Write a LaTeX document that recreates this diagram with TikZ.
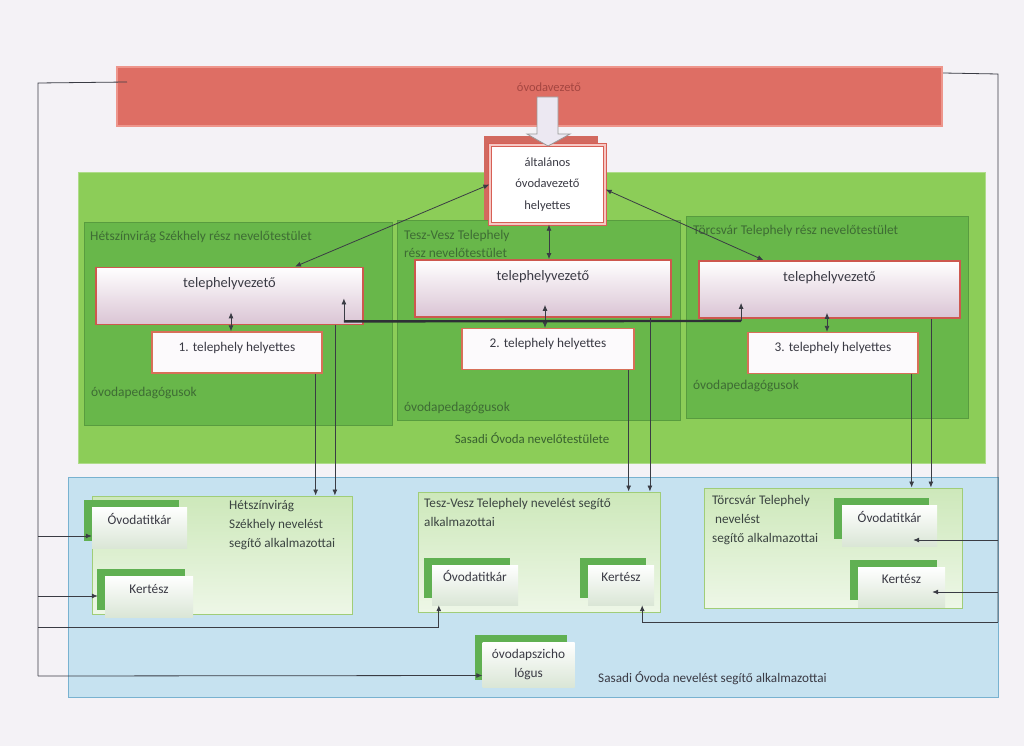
\documentclass[tikz,border=0pt]{standalone}
\usepackage{fontspec}
\setmainfont{Carlito}
\usepackage{tikz}
\usetikzlibrary{arrows.meta}
\usetikzlibrary{positioning}
\usetikzlibrary{shadows, calc}

\definecolor{pagebg}{RGB}{244,242,246}
\definecolor{barred}{RGB}{222,110,100}
\definecolor{barline}{RGB}{238,150,140}
\definecolor{bartext}{RGB}{165,70,65}
\definecolor{altred}{RGB}{215,95,85}
\definecolor{altpink}{RGB}{246,200,196}
\definecolor{altshade}{RGB}{210,105,95}
\definecolor{bggreen}{RGB}{140,205,88}
\definecolor{panelgreen}{RGB}{104,183,74}
\definecolor{paneltext}{RGB}{62,108,52}
\definecolor{vezred}{RGB}{205,88,78}
\definecolor{vezbottom}{RGB}{218,196,212}
\definecolor{helyred}{RGB}{215,112,88}
\definecolor{bgblue}{RGB}{198,226,240}
\definecolor{blueline}{RGB}{120,178,208}
\definecolor{grpgreen}{RGB}{205,232,186}
\definecolor{grpline}{RGB}{160,205,120}
\definecolor{cornergreen}{RGB}{96,176,82}
\definecolor{rolebottom}{RGB}{218,230,214}
\definecolor{linegray}{RGB}{58,60,68}
\definecolor{textgray}{RGB}{58,58,68}
\definecolor{blocklav}{RGB}{236,232,242}

\begin{document}
\begin{tikzpicture}
    [x=1pt,y=-1pt,>={Latex[length=6pt,width=5pt]},
vezetobar/.style={rectangle, fill=barred, draw=barline, line width=2pt, minimum width=825pt, minimum height=59pt},
bartxt/.style={text=bartext, font=\fontsize{12.5}{15}\selectfont, inner sep=1pt},
altback/.style={rectangle, fill=altshade, minimum width=114pt, minimum height=84pt},
altbox/.style={rectangle, fill=white, draw=altred, double=altpink, double distance=1.2pt, line width=1.3pt, minimum width=115pt, minimum height=79pt, align=center, text=textgray, font=\fontsize{12.5}{21.5}\selectfont},
blockarr/.style={fill=blocklav, draw=gray!80, line width=0.8pt},
groupbg/.style={rectangle, fill=bggreen, draw=bggreen!70!white, line width=1pt},
panel/.style={rectangle, fill=panelgreen, draw=panelgreen!85!black, line width=0.6pt},
paneltxt/.style={text=paneltext, font=\fontsize{13.4}{18}\selectfont, inner sep=1pt, align=left},
vezbox/.style={rectangle, draw=vezred, line width=1.8pt, top color=white, bottom color=vezbottom, minimum height=57pt, text=textgray, font=\fontsize{14.4}{16}\selectfont, text height=10pt, text depth=27pt},
helybox/.style={rectangle, draw=helyred, line width=1.3pt, fill=white!92!vezbottom, minimum height=41pt, text=textgray, font=\fontsize{13.3}{15}\selectfont, text height=9pt, text depth=12pt},
bluebg/.style={rectangle, fill=bgblue, draw=blueline, line width=1pt},
grpbox/.style={rectangle, top color=grpgreen, bottom color=grpgreen!35!white, draw=grpline, line width=1pt},
grptxt/.style={text=textgray!80!paneltext, font=\fontsize{13.2}{19}\selectfont, inner sep=1pt, align=left},
rolebox/.style={rectangle, top color=white, bottom color=rolebottom, drop shadow={shadow xshift=-8pt,shadow yshift=7pt,fill=cornergreen,opacity=1}, text=textgray, font=\fontsize{13.3}{19}\selectfont},
roletop/.style={text height=9pt, text depth=16pt},
arr/.style={draw=linegray, line width=0.8pt, ->},
dblarr/.style={draw=linegray, line width=0.8pt, <->},
rail/.style={draw=linegray, line width=0.8pt},
linkline/.style={draw=linegray!80!black, line width=2.4pt}
]

\fill[pagebg] (0,0) rectangle (1024,746);

% top
\node[vezetobar](vezeto) at (529.5,96.5) {};
\node[bartxt](vezetotxt) at (549,87) {óvodavezető};

% nevelotestulet
\node[groupbg, minimum width=907pt, minimum height=290pt](nevtest) at (531.5,318) {};
\node[paneltxt, text=paneltext!90!black, font=\fontsize{12.9}{15}\selectfont](nevtestlbl) at (532,438) {Sasadi Óvoda nevelőtestülete};

\node[panel, minimum width=308pt, minimum height=203pt](hetpanel) at (238,323.5) {};
\node[panel, minimum width=283pt, minimum height=200pt](teszpanel) at (538.5,320) {};
\node[panel, minimum width=282pt, minimum height=202pt](torpanel) at (827,317) {};

\node[paneltxt, anchor=west](hettitle) at (89,237) {Hétszínvirág Székhely rész nevelőtestület};
\node[paneltxt, anchor=west](tesztitle) at (403,244) {Tesz-Vesz Telephely\\rész nevelőtestület};
\node[paneltxt, anchor=west](tortitle) at (692,231) {Törcsvár Telephely rész nevelőtestület};
\node[paneltxt, anchor=west](hetped) at (90,393) {óvodapedagógusok};
\node[paneltxt, anchor=west](teszped) at (403,408) {óvodapedagógusok};
\node[paneltxt, anchor=west](torped) at (692,386) {óvodapedagógusok};

\node[altback](altshadow) at (541,178) {};
\node[altbox](alt) at (547.5,184.5) {általános\\óvodavezető\\helyettes};
\draw[blockarr] (537,97) -- (558,97) -- (558,134) -- (570,134) -- (548,146) -- (527,134) -- (537,134) -- cycle;

\node[vezbox, minimum width=267pt](hetvez) at (229.5,296) {telephelyvezető};
\node[vezbox, minimum width=256pt](teszvez) at (543,288.5) {telephelyvezető};
\node[vezbox, minimum width=261pt](torvez) at (829.5,289.5) {telephelyvezető};

\node[helybox, minimum width=170pt](hethely) at (237,352.5) {1. telephely helyettes};
\node[helybox, minimum width=172pt](teszhely) at (548,349) {2. telephely helyettes};
\node[helybox, minimum width=170pt](torhely) at (833,353) {3. telephely helyettes};

% segito alkalmazottak
\node[bluebg, minimum width=930pt, minimum height=220pt](segito) at (533,587) {};
\node[grptxt, text=textgray, anchor=west](segitolbl) at (597,678) {Sasadi Óvoda nevelést segítő alkalmazottai};

\node[grpbox, minimum width=260pt, minimum height=118pt](hetgrp) at (222,555) {};
\node[grptxt, anchor=north west](hetgrptxt) at (228,499) {Hétszínvirág\\Székhely nevelést\\segítő alkalmazottai};
\node[grpbox, minimum width=242pt, minimum height=120pt](teszgrp) at (539,552) {};
\node[grptxt, anchor=north west](teszgrptxt) at (423,497) {Tesz-Vesz Telephely nevelést segítő\\alkalmazottai};
\node[grpbox, minimum width=258pt, minimum height=120pt](torgrp) at (833,548) {};
\node[grptxt, anchor=north west](torgrptxt) at (711,494) {Törcsvár Telephely\\\hspace*{3pt}nevelést\\segítő alkalmazottai};

\node[rolebox, roletop, minimum width=95pt, minimum height=41pt](hettitkar) at (139.5,527.5) {Óvodatitkár};
\node[rolebox, roletop, minimum width=88pt, minimum height=41pt](hetkert) at (149,596.5) {Kertész};
\node[rolebox, roletop, minimum width=86pt, minimum height=40pt](tesztitkar) at (475,585) {Óvodatitkár};
\node[rolebox, roletop, minimum width=66pt, minimum height=40pt](teszkert) at (621,585) {Kertész};
\node[rolebox, roletop, minimum width=95pt, minimum height=41pt](tortitkar) at (889.5,525.5) {Óvodatitkár};
\node[rolebox, roletop, minimum width=87pt, minimum height=40pt](torkert) at (901.5,587) {Kertész};
\node[rolebox, align=center, minimum width=92pt, minimum height=45pt](pszich) at (528.5,664.5) {óvodapszicho\\lógus};

% vezetes
\draw[dblarr] (alt.west) -- ($(hetvez.north)+(65.5,0)$);
\draw[dblarr] ($(alt.east)+(0,5)$) -- ($(torvez.north)+(-66,0)$);
\draw[dblarr] ($(alt.south)+(1.5,0)$) -- ($(teszvez.north)+(6,0)$);

\draw[dblarr] ($(hethely.north)+(-6,-19)$) -- ($(hethely.north)+(-6,0)$);
\draw[dblarr] ($(teszhely.north)+(-3,-23)$) -- ($(teszhely.north)+(-3,0)$);
\draw[dblarr] ($(torhely.north)+(-6,-19)$) -- ($(torhely.north)+(-6,0)$);

\draw[linkline] ($(hetvez.south east)+(-20,-4)$) -- ($(torvez.south west)+(43,2)$);
\draw[arr] ($(hetvez.south east)+(-20,-4)$) -- ($(hetvez.south east)+(-20,-27)$);
\draw[arr] ($(torvez.south west)+(43,2)$) -- ($(torvez.south west)+(43,-16)$);

\coordinate (hetd1) at ([xshift=-7pt]hethely.south east);
\coordinate (hetd2) at ([xshift=-29pt]hetvez.south east);
\coordinate (teszd1) at ([xshift=-6pt]teszhely.south east);
\coordinate (teszd2) at ([xshift=-22pt]teszvez.south east);
\coordinate (tord1) at ([xshift=-7pt]torhely.south east);
\coordinate (tord2) at ([xshift=-30pt]torvez.south east);
\draw[arr] (hetd1) -- (hetd1 |- hetgrp.north);
\draw[arr] (hetd2) -- (hetd2 |- hetgrp.north);
\draw[arr] (teszd1) -- (teszd1 |- teszgrp.north);
\draw[arr] (teszd2) -- (teszd2 |- teszgrp.north);
\draw[arr] (tord1) -- (tord1 |- torgrp.north);
\draw[arr] (tord2) -- (tord2 |- torgrp.north);

% oldalso vonalak
\coordinate (lrailtop) at (38,83);
\coordinate (lrailbot) at (38,676);
\coordinate (ltap1) at (38,536);
\coordinate (ltap2) at (38,596);
\coordinate (ltap3) at (38,627);
\coordinate (rrailtop) at (998,74);
\coordinate (rrailbot) at (998,622);
\coordinate (rtap1) at (998,540);
\coordinate (rtap2) at (998,592);

\draw[rail] ([xshift=11pt,yshift=-16pt]vezeto.north west) -- (lrailtop) -- (lrailbot);
\draw[arr] (lrailbot) -- ([yshift=-11pt]pszich.west);
\draw[arr] (ltap1) -- (ltap1 -| hettitkar.west);
\draw[arr] (ltap2) -- ($(ltap2 -| hetkert.west)+(-7,0)$);
\draw[arr] (ltap3) -| ([xshift=7pt]tesztitkar.south west);

\draw[rail] ([yshift=-7pt]vezeto.north east) -- (rrailtop) -- (rrailbot);
\draw[arr] (rrailbot) -| ([xshift=-12pt]teszkert.south east);
\draw[arr] (rtap1) -- ($(rtap1 -| tortitkar.east)+(-24,0)$);
\draw[arr] (rtap2) -- ($(rtap2 -| torkert.east)+(-13,0)$);

\end{tikzpicture}
\end{document}
